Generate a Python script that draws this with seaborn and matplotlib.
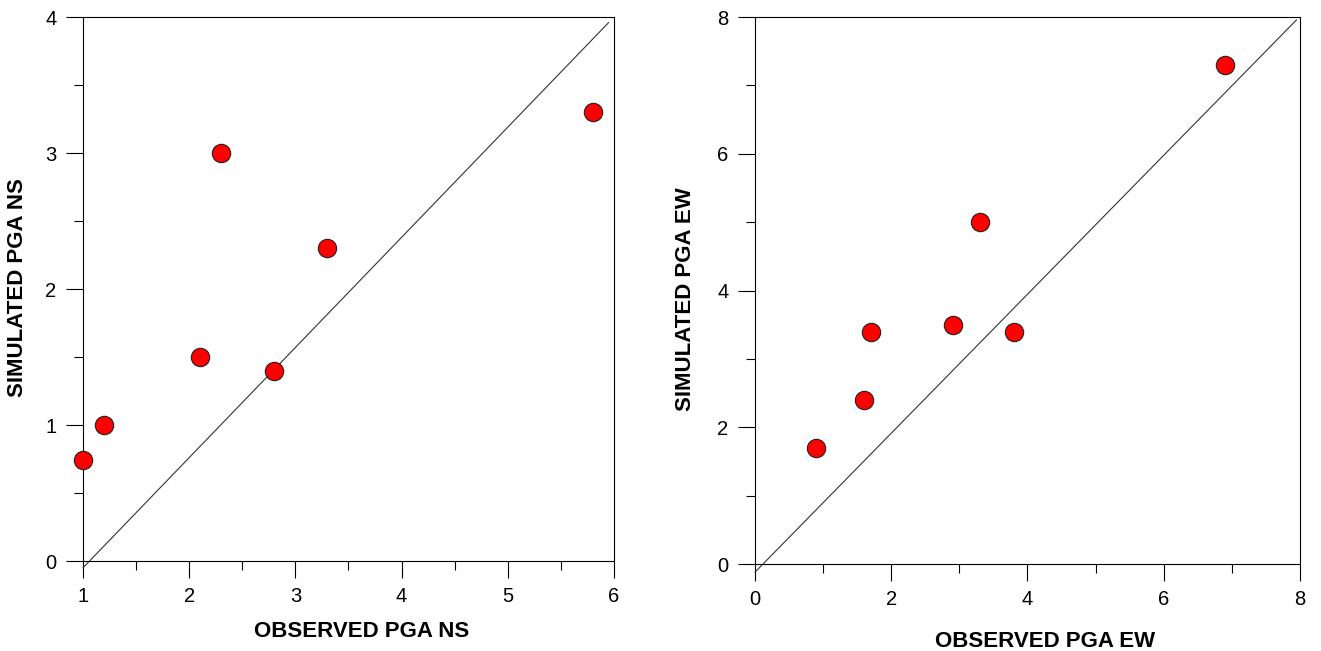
import numpy as np
import pandas as pd
import matplotlib
matplotlib.use("Agg")
import matplotlib.pyplot as plt
from matplotlib.ticker import MultipleLocator
import seaborn as sns

# observed vs simulated PGA
obs_ns = [1.0, 1.2, 2.1, 2.3, 2.8, 3.3, 5.8]
sim_ns = [0.74, 1.0, 1.5, 3.0, 1.4, 2.3, 3.3]

obs_ew = [0.9, 1.6, 1.7, 2.9, 3.3, 3.8, 6.9]
sim_ew = [1.7, 2.4, 3.4, 3.5, 5.0, 3.4, 7.3]

sns.set_style("ticks")
plt.rcParams['font.family'] = ['Liberation Sans', 'DejaVu Sans']
plt.rcParams['text.color'] = 'black'
plt.rcParams['axes.labelcolor'] = 'black'

fig = plt.figure(figsize=(13.21, 6.51), dpi=100)
ax1 = fig.add_axes([0.0628, 0.1382, 0.402, 0.8356])
ax2 = fig.add_axes([0.5715, 0.1336, 0.4126, 0.8402])

panels = [
    (ax1, obs_ns, sim_ns, (1, 6), (0, 4), 1, 0.5, 1, 0.5,
     ([1.0, 5.95], [-0.05, 3.96]), 'OBSERVED PGA NS', 'SIMULATED PGA NS',
     (0.524, -0.1287), (-0.1234, 0.502)),
    (ax2, obs_ew, sim_ew, (0, 8), (0, 8), 2, 1, 2, 1,
     ([0.0, 7.95], [-0.12, 7.96]), 'OBSERVED PGA EW', 'SIMULATED PGA EW',
     (0.533, -0.1408), (-0.1266, 0.4845)),
]

for ax, xs, ys, xlim, ylim, xmaj, xmin, ymaj, ymin, diag, xlab, ylab, xpos, ypos in panels:
    df = pd.DataFrame({'obs': xs, 'sim': ys})
    ax.plot(diag[0], diag[1], color='#333333', lw=0.8, clip_on=False, zorder=2)
    sns.scatterplot(data=df, x='obs', y='sim', ax=ax, s=175, color='#ff0000',
                    edgecolor='#222222', linewidth=0.8, zorder=3, clip_on=False)
    ax.set_xlim(xlim)
    ax.set_ylim(ylim)
    ax.xaxis.set_major_locator(MultipleLocator(xmaj))
    ax.xaxis.set_minor_locator(MultipleLocator(xmin))
    ax.yaxis.set_major_locator(MultipleLocator(ymaj))
    ax.yaxis.set_minor_locator(MultipleLocator(ymin))
    ax.tick_params(which='major', direction='out', length=12.5, width=0.8,
                   labelsize=14.5, pad=6.5, colors='black')
    ax.tick_params(which='minor', direction='out', length=6.5, width=0.8, colors='black')
    for sp in ax.spines.values():
        sp.set_linewidth(0.8)
        sp.set_color('black')
        sp.set_visible(True)
    ax.set_xlabel(xlab, fontsize=16, fontweight='bold', color='black', va='center')
    ax.set_ylabel(ylab, fontsize=16, fontweight='bold', color='black', va='center')
    ax.xaxis.set_label_coords(*xpos)
    ax.yaxis.set_label_coords(*ypos)

fig.savefig('out.png', dpi=100)
